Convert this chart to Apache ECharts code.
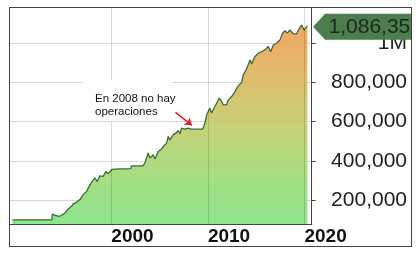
<!DOCTYPE html>
<html><head><meta charset="utf-8">
<script src="https://cdn.jsdelivr.net/npm/echarts@6/dist/echarts.min.js"></script>
<style>
html,body{margin:0;padding:0;background:#fff;}
#frame{position:absolute;left:9px;top:7px;width:401px;height:238px;border:1px solid #444;overflow:hidden;}
#chart{width:401px;height:238px;}
</style></head>
<body><div id="frame"><div id="chart"></div></div>
<script>
const years = [1989.75, 1993.83, 1993.89, 1994.15, 1994.66, 1995.18, 1995.52, 1995.88, 1996.04, 1996.29, 1996.46, 1996.74, 1996.91, 1997.08, 1997.43, 1997.70, 1997.95, 1998.11, 1998.29, 1998.53, 1998.81, 1999.15, 1999.43, 1999.67, 2000.02, 2000.26, 2002.02, 2002.07, 2003.26, 2003.47, 2003.81, 2003.99, 2004.33, 2004.51, 2004.85, 2005.20, 2005.37, 2005.72, 2005.89, 2006.06, 2006.40, 2006.68, 2006.92, 2007.10, 2007.27, 2007.62, 2007.96, 2008.24, 2009.45, 2009.69, 2009.87, 2010.21, 2010.38, 2010.55, 2010.90, 2011.17, 2011.42, 2011.59, 2011.94, 2012.10, 2012.46, 2012.80, 2013.14, 2013.49, 2013.66, 2013.83, 2013.94, 2014.18, 2014.35, 2014.53, 2014.87, 2015.21, 2015.56, 2015.91, 2016.25, 2016.50, 2016.77, 2017.12, 2017.46, 2017.74, 2017.98, 2018.22, 2018.50, 2018.84, 2019.19, 2019.36, 2019.71, 2019.95, 2020.30];
const equity = [100000, 100000, 130000, 123000, 118000, 135000, 155000, 169000, 181000, 186000, 181000, 203000, 197000, 228000, 245000, 270000, 292000, 287000, 313000, 295000, 324000, 321000, 346000, 335000, 355000, 358000, 360000, 374000, 374000, 389000, 440000, 414000, 431000, 409000, 448000, 460000, 473000, 490000, 524000, 507000, 532000, 541000, 554000, 538000, 566000, 561000, 566000, 561000, 561000, 592000, 634000, 668000, 643000, 651000, 693000, 719000, 702000, 685000, 685000, 710000, 727000, 752000, 781000, 798000, 837000, 828000, 862000, 888000, 913000, 893000, 930000, 947000, 955000, 964000, 981000, 955000, 989000, 998000, 1015000, 1049000, 1062000, 1049000, 1065000, 1045000, 1045000, 1065000, 1091000, 1065000, 1086350];
const gridYears = [2000, 2010, 2020];
const yTicks = [200000, 400000, 600000, 800000, 1000000];
const noteText = 'En 2008 no hay\noperaciones';
const arrowFrom = [2006.64, 646700];
const arrowTo = [2008.35, 580700];

function fmt(v) {
  if (v >= 1000000 && v % 1000000 === 0) return (v / 1000000) + 'M';
  return String(v).replace(/\B(?=(\d{3})+(?!\d))/g, ',');
}

const n = years.length;
const seriesData = years.map((y, i) => [y, equity[i]]);
const chart = echarts.init(document.getElementById('chart'), null, {renderer: 'canvas'});
const FONT = 'Arial, "Liberation Sans", sans-serif';

chart.setOption({
  animation: false,
  grid: {left: 0, top: 0, right: 99.3, bottom: 21.7, containLabel: false},
  xAxis: {
    type: 'value', min: 1989.5, max: 2020.75,
    axisLine: {show: true, onZero: false, lineStyle: {color: '#444', width: 1}},
    axisTick: {show: false, customValues: gridYears},
    splitLine: {show: false},
    axisLabel: {
      customValues: gridYears, align: 'left', margin: 3,
      fontFamily: FONT, fontWeight: 'bold', fontSize: 19, color: '#111',
      formatter: v => String(v)
    }
  },
  yAxis: {
    type: 'value', position: 'right', min: 79000, max: 1177000,
    axisLine: {show: true, lineStyle: {color: '#444', width: 1}},
    axisTick: {show: true, inside: false, length: 4, customValues: yTicks, lineStyle: {color: '#444'}},
    splitLine: {show: true, lineStyle: {color: '#d6d6d6', width: 1}},
    axisLabel: {
      customValues: yTicks, align: 'right', margin: 95.3,
      fontFamily: FONT, fontSize: 21, color: '#222',
      formatter: v => fmt(v)
    }
  },
  graphic: [
    {type: 'rect', z: 100, shape: {x: 73, y: 72, width: 89, height: 41}, style: {fill: '#fff'}},
    {type: 'text', z: 101, x: 85, y: 85, style: {text: noteText, font: '11.5px ' + FONT, lineHeight: 12.5, fill: '#111', verticalAlign: 'top'}}
  ],
  series: [{
    type: 'line',
    data: seriesData,
    showSymbol: false, symbol: 'none',
    lineStyle: {color: '#3b6b3b', width: 1.3},
    areaStyle: {
      opacity: 0.9,
      color: new echarts.graphic.LinearGradient(0, 0, 0, 1, [
        {offset: 0, color: '#f19d53'},
        {offset: 0.25, color: '#deb55c'},
        {offset: 0.5, color: '#c2cb69'},
        {offset: 0.75, color: '#9eda74'},
        {offset: 1, color: '#80e380'}
      ])
    },
    markLine: {
      silent: true, symbol: ['none', 'none'], label: {show: false},
      lineStyle: {type: 'solid', width: 1, color: 'rgba(0,0,0,0.14)'},
      data: gridYears.map(y => ({xAxis: y, lineStyle: {type: 'solid', width: 1, color: 'rgba(0,0,0,0.14)'}})).concat([
        [
          {coord: arrowFrom, symbol: 'none', lineStyle: {color: '#e3201b', width: 1.5, type: 'solid'}},
          {coord: arrowTo, symbol: 'arrow', symbolSize: 7}
        ]
      ])
    },
    markPoint: {
      silent: true,
      symbol: 'path://M0,13L12,0L106,0L106,26L12,26Z',
      symbolSize: [106, 26],
      symbolOffset: [58.7, 1],
      itemStyle: {color: '#4d7d4d'},
      label: {
        show: true, position: [15.5, 13], align: 'left', verticalAlign: 'middle',
        fontFamily: FONT, fontSize: 21, color: '#1a2a1a',
        formatter: p => fmt(p.value)
      },
      data: [{coord: [years[n - 1], equity[n - 1]], value: equity[n - 1]}]
    }
  }]
});
</script>
</body></html>
